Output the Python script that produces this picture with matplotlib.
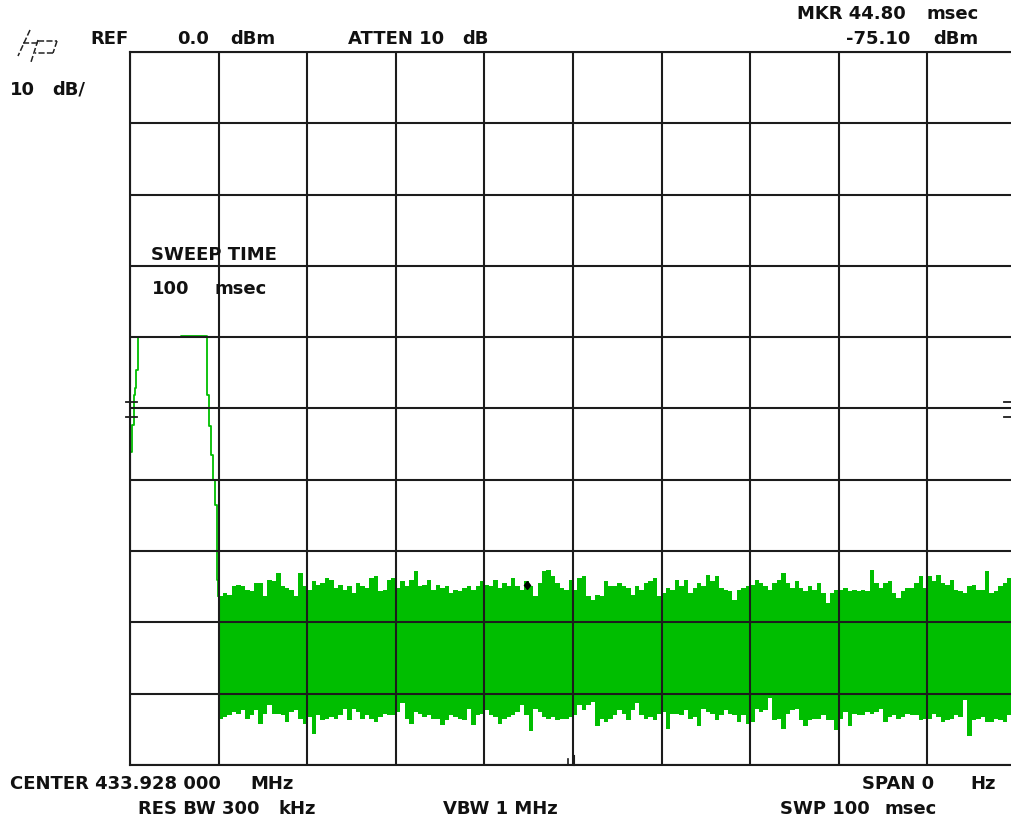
import numpy as np
import matplotlib
matplotlib.use("Agg")
import matplotlib.pyplot as plt
from matplotlib.lines import Line2D

# Zero-span sweep: 0..100 ms, reference level 0 dBm, 10 dB/div
sweep_ms = (0, 100)
level_db = (-100, 0)

# Burst at the start of the sweep (time in ms, level in dBm)
pulse_t = [0.1, 0.2, 0.4, 0.55, 0.7, 0.85, 0.95, 5.8, 8.5, 8.7, 8.95, 9.15, 9.4, 9.6, 9.8, 9.95]
pulse_db = [-56.1, -52.3, -48.1, -47.1, -44.6, -41.8, -40.0, -39.8, -39.8, -48.1, -52.5,
            -56.5, -60.0, -63.5, -74.1, -76.3]

# Noise floor after the burst, sampled every 0.5 ms from 10 ms to 100 ms
noise_start_ms = 10.0
noise_step_ms = 0.5
noise_upper_db = [
    -76.3, -75.9, -76.1, -74.9, -74.7, -74.9, -75.4, -75.6, -74.5, -74.5,
    -76.3, -74.0, -74.2, -73.1, -74.9, -75.2, -75.4, -76.3, -73.1, -74.9,
    -75.4, -74.2, -74.7, -74.5, -73.8, -74.0, -75.2, -74.7, -75.4, -74.9,
    -75.9, -74.5, -74.9, -75.2, -73.8, -73.5, -75.6, -75.4, -74.0, -73.8,
    -75.2, -74.2, -74.9, -74.0, -72.8, -74.9, -74.7, -74.0, -75.4, -74.7,
    -75.2, -74.9, -75.9, -75.4, -75.6, -75.2, -74.9, -75.4, -74.9, -74.2,
    -74.7, -74.9, -74.0, -75.2, -74.5, -74.9, -73.8, -74.9, -75.4, -74.2,
    -74.9, -76.3, -74.5, -72.8, -72.6, -73.5, -74.5, -75.2, -75.4, -74.0,
    -75.4, -73.8, -73.5, -76.3, -76.8, -76.1, -76.3, -74.2, -74.9, -74.9,
    -74.5, -74.9, -75.2, -76.1, -74.9, -75.4, -74.5, -74.2, -73.8, -76.3,
    -75.9, -75.2, -75.4, -74.0, -74.9, -74.0, -75.9, -75.2, -74.5, -74.9,
    -73.3, -74.2, -73.5, -75.2, -75.4, -75.6, -76.8, -75.4, -75.2, -74.9,
    -74.7, -74.0, -74.5, -74.9, -75.4, -74.5, -74.0, -73.1, -74.5, -75.2,
    -74.2, -75.2, -75.6, -74.9, -75.4, -74.5, -75.9, -77.3, -75.9, -75.4,
    -75.4, -75.2, -75.6, -75.4, -75.6, -75.4, -75.6, -72.6, -74.5, -75.2,
    -74.5, -74.2, -75.9, -76.6, -75.6, -75.2, -75.2, -74.5, -73.5, -75.2,
    -73.5, -74.2, -73.3, -74.5, -74.7, -74.0, -75.4, -75.6, -75.9, -74.9,
    -74.7, -75.4, -75.4, -72.8, -75.9, -75.6, -74.9, -74.5, -73.8, -73.3,
    -74.5,
]
noise_lower_db = [
    -93.5, -93.2, -93.0, -92.5, -92.8, -92.3, -93.5, -93.0, -92.3, -94.2,
    -92.8, -91.6, -92.8, -92.8, -93.0, -93.9, -92.5, -92.3, -93.5, -94.2,
    -93.2, -95.6, -93.0, -93.7, -93.5, -93.2, -93.5, -93.0, -92.1, -93.7,
    -92.1, -92.5, -93.5, -93.0, -93.5, -93.9, -93.2, -92.8, -93.0, -93.0,
    -92.5, -91.3, -93.5, -94.2, -92.5, -92.8, -93.2, -93.0, -93.5, -93.5,
    -94.4, -93.7, -93.0, -93.2, -93.5, -93.7, -92.1, -94.4, -93.0, -92.8,
    -92.3, -93.0, -93.2, -94.2, -93.5, -93.2, -93.0, -92.5, -91.6, -93.0,
    -95.3, -92.1, -92.5, -93.2, -93.5, -93.2, -93.7, -93.5, -93.5, -93.2,
    -93.0, -91.6, -92.3, -91.6, -91.1, -94.6, -93.5, -93.9, -93.5, -93.0,
    -92.3, -92.8, -93.7, -92.3, -91.3, -93.0, -93.5, -93.2, -93.7, -92.8,
    -92.5, -94.9, -92.8, -92.8, -93.0, -92.3, -93.5, -93.2, -94.6, -92.1,
    -92.5, -92.8, -93.7, -93.0, -92.3, -92.8, -93.0, -93.9, -93.0, -94.2,
    -93.9, -92.1, -92.5, -92.3, -90.6, -93.7, -93.5, -94.9, -92.8, -92.3,
    -92.1, -93.7, -94.6, -93.7, -93.5, -93.5, -93.0, -93.7, -93.7, -95.1,
    -93.5, -92.5, -94.6, -92.8, -93.0, -93.0, -92.5, -92.8, -92.5, -92.1,
    -93.9, -93.2, -93.0, -93.5, -93.2, -92.8, -93.0, -93.0, -93.7, -93.5,
    -93.5, -92.8, -93.2, -93.9, -93.7, -93.5, -93.0, -93.2, -90.9, -96.0,
    -93.7, -93.5, -93.2, -93.9, -93.9, -93.5, -93.7, -93.9, -93.0, -93.0,
    -93.2,
]

# Marker readout
marker_ms = 44.80
marker_db = -75.10

TRACE = "#00BE00"
GRID = "#1c1c1c"
W, H = 1012, 822

fig = plt.figure(figsize=(W / 100, H / 100), dpi=100)
fig.patch.set_facecolor("white")


def fx(x):
    return x / W


def fy(y):
    return 1 - y / H


# graticule spans pixels x 130..1016, y 52..765
ax = fig.add_axes([fx(130), fy(765), (1016 - 130) / W, (765 - 52) / H])
ax.set_xlim(*sweep_ms)
ax.set_ylim(*level_db)
ax.set_xticks(np.arange(0, 101, 10))
ax.set_yticks(np.arange(-100, 1, 10))
ax.tick_params(length=0, labelbottom=False, labelleft=False)
ax.grid(True, color=GRID, lw=1.5)
ax.set_axisbelow(False)
for s in ax.spines.values():
    s.set_color(GRID)
    s.set_linewidth(1.5)

noise_t = noise_start_ms + noise_step_ms * np.arange(len(noise_upper_db))
ax.fill_between(noise_t, noise_lower_db, noise_upper_db, step="post",
                color=TRACE, lw=0, zorder=1)
ax.plot(pulse_t, pulse_db, color=TRACE, lw=1.3, drawstyle="steps-post", zorder=2)
ax.plot([marker_ms], [marker_db + 0.3], marker="d", ms=4.5, color="black", zorder=3)

# short level indicators on both edges and marker tick at the bottom
for y in (402, 417):
    fig.add_artist(Line2D([fx(126), fx(137)], [fy(y), fy(y)], color=GRID, lw=1.3))
    fig.add_artist(Line2D([fx(1004), fx(1012)], [fy(y), fy(y)], color=GRID, lw=1.3))
fig.add_artist(Line2D([fx(568), fx(568)], [fy(759), fy(765)], color=GRID, lw=1.2))
fig.add_artist(Line2D([fx(574), fx(574)], [fy(756), fy(765)], color=GRID, lw=1.5))

# hp logo
logo = [((30, 30), (18, 56)), ((23, 43), (40, 43)), ((38, 40), (31, 62)),
        ((38, 41), (57, 41)), ((57, 41), (53, 53)), ((53, 53), (35, 53))]
for (x0, y0), (x1, y1) in logo:
    fig.add_artist(Line2D([fx(x0), fx(x1)], [fy(y0), fy(y1)], color="#222222",
                          lw=1.1, ls=(0, (4, 1.5))))

FONT = dict(family="DejaVu Sans", fontweight="bold", fontsize=13, color="#111111",
            va="center", ha="left")


def label(x, y, s, **kw):
    fig.text(fx(x), fy(y), s, **{**FONT, **kw})


label(90, 39, "REF")
label(177, 39, "0.0")
label(230, 39, "dBm")
label(348, 39, "ATTEN 10")
label(462, 39, "dB")
label(797, 14, "MKR 44.80")
label(927, 14, "msec")
label(846, 39, "-75.10")
label(933, 39, "dBm")
label(10, 90, "10")
label(52, 90, "dB/")

label(151, 255, "SWEEP TIME")
label(152, 289, "100")
label(215, 289, "msec")

label(10, 784, "CENTER 433.928 000")
label(250, 784, "MHz")
label(138, 809, "RES BW 300")
label(278, 809, "kHz")
label(443, 809, "VBW 1 MHz")
label(862, 784, "SPAN 0")
label(970, 784, "Hz")
label(780, 809, "SWP 100")
label(885, 809, "msec")

fig.savefig("out.png", dpi=100, facecolor="white")
